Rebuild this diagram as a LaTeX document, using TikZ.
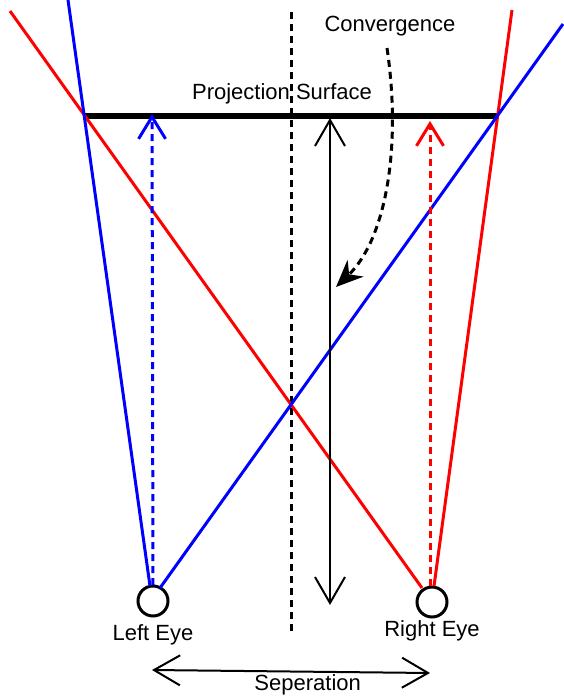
\documentclass[tikz,border=0pt]{standalone}
\usepackage{fontspec}
\setmainfont{Liberation Sans}
\usetikzlibrary{arrows.meta,positioning}
\definecolor{eyeBlue}{RGB}{0, 0, 255}
\definecolor{eyeRed}{RGB}{255, 0, 0}

\begin{document}
\begin{tikzpicture}[
  x=1pt,y=-1pt,
  eye/.style={
    draw,
    circle,
    line width=3pt,
    minimum size=30pt,
    inner sep=0pt
  },
  label/.style={font=\fontsize{22}{26}\selectfont,inner sep=1pt},
  sight/.style={line width=3pt},
  ray/.style={line width=3pt,dash pattern=on 7pt off 5pt,
    -{Straight Barb[length=22pt,width=27pt,line width=3pt]}},
  measure/.style={line width=2pt,
    {Straight Barb[length=26pt,width=30pt,line width=2pt]}-{Straight Barb[length=26pt,width=30pt,line width=2pt]}}
]
  \useasboundingbox (0,0) rectangle (563,696);

  % eyes
  \node[eye] (leftEye) at (153,601) {};
  \node[eye] (rightEye) at (432,602) {};
  \node[label,below=6pt of leftEye] (leftLabel) {Left Eye};
  \node[label,below=1pt of rightEye] (rightLabel) {Right Eye};

  % projection surface
  \coordinate (surfL) at (85,116);
  \coordinate (surfR) at (497,116);
  \draw[line width=6pt] (surfL) -- (surfR);
  \node[label] (surface) at (282,94) {Projection Surface};

  % centre line
  \coordinate (midTop) at (291,12);
  \coordinate (midBot) at (291,632);
  \draw[line width=3pt,dash pattern=on 7pt off 5pt] (midTop) -- (midBot);

  % lines of sight
  \coordinate (blueTop) at (68,0);
  \coordinate (blueEnd) at (563,24);
  \coordinate (redTop) at (10,11);
  \coordinate (redEnd) at (512,10);
  \draw[sight,eyeRed] ([shift={(-10,-14)}]rightEye.center) -- (redTop);
  \draw[sight,eyeRed] ([shift={(2,-16)}]rightEye.center) -- (redEnd);
  \draw[sight,eyeBlue] ([shift={(-3,-15)}]leftEye.center) -- (blueTop);
  \draw[sight,eyeBlue] ([shift={(7,-13)}]leftEye.center) -- (blueEnd);

  % projected rays
  \coordinate (blueHit) at (152,114);
  \coordinate (redHit) at (430,121);
  \draw[ray,eyeBlue] ([shift={(0,-16)}]leftEye.center) -- (blueHit);
  \draw[ray,eyeRed] ([shift={(-2,-16)}]rightEye.center) -- (redHit);

  % depth
  \coordinate (depthTop) at (330,118);
  \coordinate (depthBot) at (330,605);
  \draw[measure] (depthTop) -- (depthBot);

  % convergence
  \node[label] (convergence) at (390,26) {Convergence};
  \coordinate (convTip) at (336,287);
  \draw[line width=3pt,dash pattern=on 7pt off 5pt,-{Stealth[length=27pt,width=23pt]}]
    (387,48) .. controls (402,150) and (385,240) .. (convTip);

  % separation
  \coordinate (sepL) at (152,670);
  \coordinate (sepR) at (430,673);
  \draw[measure] (sepL) -- node[label,below=1pt,pos=0.56] (sepLabel) {Seperation} (sepR);
\end{tikzpicture}
\end{document}
